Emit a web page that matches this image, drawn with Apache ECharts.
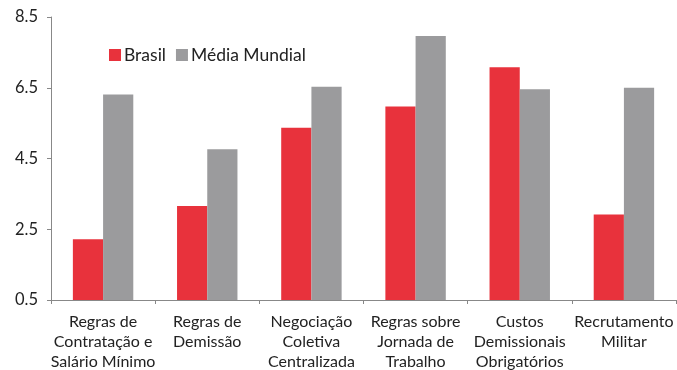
<!DOCTYPE html>
<html>
<head>
<meta charset="utf-8">
<script src="https://cdn.jsdelivr.net/npm/echarts@6/dist/echarts.min.js"></script>
<style>html,body{margin:0;padding:0;background:#fff;}#c{width:677px;height:370px;}</style>
</head>
<body>
<div id="c"></div>
<script>
var categories = ["Regras de\nContratação e\nSalário Mínimo", "Regras de\nDemissão", "Negociação\nColetiva\nCentralizada", "Regras sobre\nJornada de\nTrabalho", "Custos\nDemissionais\nObrigatórios", "Recrutamento\nMilitar"];
var brasil = [2.22, 3.16, 5.37, 5.97, 7.08, 2.92];
var mediaMundial = [6.31, 4.76, 6.53, 7.96, 6.46, 6.5];
var yTicks = [0.5, 2.5, 4.5, 6.5, 8.5];

var chart = echarts.init(document.getElementById('c'));
chart.setOption({
  animation: false,
  textStyle: {fontFamily: 'Lato'},
  legend: {
    left: 104, top: 41,
    itemWidth: 12, itemHeight: 12, itemGap: 10,
    icon: 'rect',
    textStyle: {fontSize: 17.5, color: '#222', fontFamily: 'Lato', padding: [0, 0, 0, -2]},
    data: ['Brasil', 'Média Mundial']
  },
  grid: {left: 51, right: 1, top: 17, bottom: 70, containLabel: false, outerBoundsMode: 'none'},
  xAxis: {
    type: 'category',
    data: categories,
    axisLine: {lineStyle: {color: '#888'}},
    axisTick: {show: true, length: 4, lineStyle: {color: '#888'}},
    axisLabel: {fontSize: 16, color: '#222', lineHeight: 20, interval: 0, margin: 12, fontFamily: 'Lato'}
  },
  yAxis: {
    type: 'value',
    min: 0.5, max: 8.5,
    axisLine: {show: true, lineStyle: {color: '#888'}},
    axisTick: {show: true, length: 4, customValues: yTicks, lineStyle: {color: '#888'}},
    axisLabel: {fontSize: 16.5, color: '#222', margin: 13, customValues: yTicks, fontFamily: 'Lato',
      formatter: function(v){ return v.toFixed(1); }},
    splitLine: {show: false}
  },
  series: [
    {name: 'Brasil', type: 'bar', data: brasil, itemStyle: {color: '#e8323c'}, barGap: '0%', barCategoryGap: '42%'},
    {name: 'Média Mundial', type: 'bar', data: mediaMundial, itemStyle: {color: '#9b9b9d'}, barGap: '0%', barCategoryGap: '42%'}
  ]
});
</script>
</body>
</html>
